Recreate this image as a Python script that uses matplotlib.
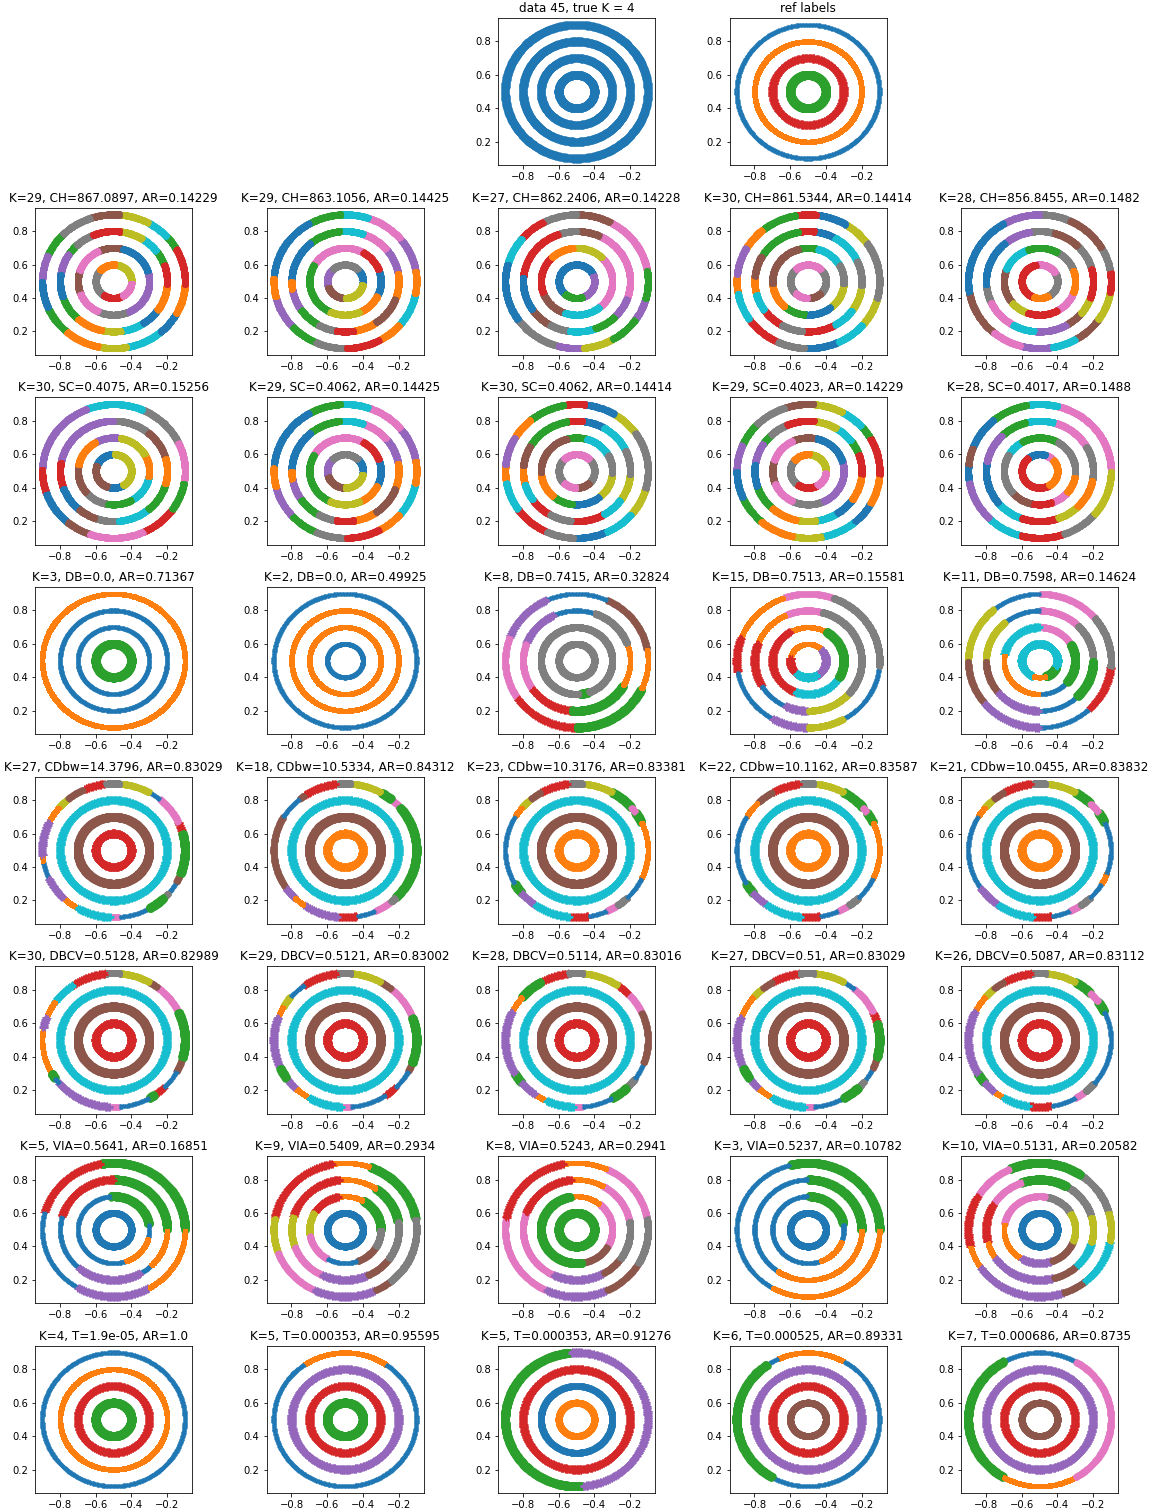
import numpy as np
import matplotlib
matplotlib.use("Agg")
import matplotlib.pyplot as plt

# ---------------- data ----------------
CENTER = (-0.5, 0.5)
RING_RADII = [0.4, 0.3, 0.2, 0.1]          # outer -> inner ring
BAND_OFFSETS = [-0.007, 0.0, 0.007]        # ring band thickness
XLIM = (-0.94, -0.06)
YLIM = (0.06, 0.94)

# colour codes (tab10)
COLORS = {'b': 'tab:blue', 'o': 'tab:orange', 'g': 'tab:green', 'r': 'tab:red',
          'p': 'tab:purple', 'n': 'tab:brown', 'k': 'tab:pink', 'y': 'tab:gray',
          'v': 'tab:olive', 'c': 'tab:cyan'}

# each panel: 4 rings (outer..inner); each ring = list of (start angle in deg, colour[, style])
DATA45 = [[(0, 'b', 'data')], [(0, 'b', 'data')], [(0, 'b', 'data')], [(0, 'b', 'data')]]
REF = [[(0, 'b')], [(0, 'o')], [(0, 'r')], [(0, 'g')]]

CH_1 = [[(29, 'g'), (42, 'c'), (61, 'v'), (85, 'n'), (109, 'y'), (136, 'g'), (157, 'p'), (180, 'b'),
         (204, 'g'), (229, 'o'), (258, 'v'), (281, 'c'), (311, 'b'), (331, 'o'), (357, 'r')],
        [(20, 'g'), (37, 'c'), (58, 'v'), (83, 'r'), (114, 'y'), (134, 'g'), (147, 'p'), (172, 'b'),
         (199, 'g'), (228, 'o'), (258, 'v'), (279, 'c'), (303, 'b'), (325, 'o'), (356, 'r')],
        [(17, 'b'), (76, 'n'), (115, 'k'), (162, 'n'), (202, 'k'), (245, 'y'), (295, 'p')],
        [(85, 'o'), (140, 'y'), (235, 'r'), (300, 'k'), (355, 'v')]]
CH_2 = [[(9, 'p'), (40, 'k'), (71, 'c'), (93, 'g'), (120, 'b'), (177, 'o'), (194, 'p'), (223, 'g'),
         (246, 'y'), (271, 'r'), (299, 'o'), (320, 'c'), (349, 'o')],
        [(10, 'p'), (40, 'k'), (70, 'c'), (95, 'g'), (130, 'b'), (180, 'o'), (190, 'p'), (215, 'g'),
         (240, 'y'), (260, 'r'), (280, 'o'), (305, 'n'), (340, 'o')],
        [(20, 'r'), (60, 'k'), (150, 'g'), (245, 'v'), (295, 'o'), (335, 'b')],
        [(45, 'y'), (135, 'p'), (200, 'n'), (270, 'v'), (350, 'b')]]
CH_3 = [[(10, 'k'), (62, 'n'), (90, 'y'), (118, 'r'), (140, 'c'), (165, 'b'), (215, 'y'), (255, 'p'),
         (275, 'v'), (300, 'g'), (325, 'p'), (345, 'g')],
        [(65, 'n'), (90, 'y'), (110, 'r'), (175, 'b'), (215, 'n'), (240, 'y'), (262, 'c'), (290, 'g'),
         (315, 'p'), (340, 'k')],
        [(45, 'v'), (95, 'o'), (135, 'r'), (200, 'n'), (250, 'c'), (310, 'k')],
        [(20, 'b'), (230, 'g'), (290, 'p')]]
CH_4 = [[(35, 'v'), (58, 'b'), (83, 'r'), (100, 'g'), (130, 'o'), (150, 'p'), (175, 'o'), (190, 'c'),
         (215, 'r'), (245, 'y'), (268, 'b'), (295, 'c'), (320, 'v'), (345, 'y')],
        [(25, 'c'), (60, 'b'), (83, 'r'), (100, 'g'), (150, 'n'), (175, 'o'), (195, 'c'), (215, 'r'),
         (240, 'y'), (265, 'r'), (300, 'c'), (325, 'v'), (355, 'y')],
        [(30, 'c'), (75, 'g'), (105, 'n'), (185, 'o'), (230, 'g'), (265, 'b'), (310, 'v'), (355, 'y')],
        [(45, 'k'), (135, 'y'), (225, 'k'), (270, 'n'), (315, 'y')]]
CH_5 = [[(8, 'y'), (30, 'n'), (65, 'y'), (90, 'p'), (120, 'b'), (190, 'n'), (230, 'k'), (255, 'p'),
         (280, 'c'), (300, 'n'), (325, 'v'), (350, 'r')],
        [(15, 'y'), (45, 'n'), (75, 'y'), (100, 'p'), (130, 'b'), (185, 'y'), (205, 'k'), (240, 'c'),
         (265, 'p'), (300, 'n'), (320, 'v'), (340, 'r')],
        [(20, 'y'), (60, 'g'), (110, 'c'), (160, 'n'), (220, 'v'), (250, 'r'), (300, 'k'), (340, 'o')],
        [(30, 'k'), (100, 'r'), (250, 'o'), (300, 'y')]]

SC_1 = [[(25, 'y'), (66, 'c'), (112, 'p'), (178, 'r'), (200, 'b'), (230, 'n'), (250, 'k'), (295, 'r'),
         (325, 'g'), (350, 'k')],
        [(15, 'n'), (50, 'y'), (90, 'p'), (170, 'r'), (200, 'b'), (230, 'n'), (250, 'y'), (275, 'c'),
         (310, 'g'), (345, 'o')],
        [(30, 'v'), (80, 'p'), (120, 'o'), (170, 'n'), (220, 'y'), (260, 'g'), (300, 'c'), (350, 'o')],
        [(90, 'b'), (160, 'n'), (250, 'b'), (300, 'v')]]
SC_2 = CH_2
SC_3 = CH_4
SC_4 = CH_1
SC_5 = [[(0, 'k'), (75, 'c'), (100, 'g'), (130, 'b'), (160, 'n'), (175, 'b'), (190, 'p'), (225, 'c'),
         (255, 'r'), (290, 'y'), (320, 'v')],
        [(30, 'k'), (75, 'c'), (105, 'g'), (135, 'p'), (170, 'b'), (220, 'c'), (250, 'r'), (290, 'v'),
         (315, 'o'), (350, 'y')],
        [(60, 'g'), (120, 'c'), (150, 'y'), (220, 'n'), (260, 'r'), (290, 'k'), (320, 'o'), (350, 'y')],
        [(40, 'k'), (70, 'b'), (130, 'r'), (300, 'o')]]

DB_1 = [[(0, 'o')], [(0, 'b')], [(0, 'b')], [(0, 'g')]]
DB_2 = [[(0, 'b')], [(0, 'o')], [(0, 'o')], [(0, 'b')]]
DB_3 = [[(10, 'n'), (65, 'b'), (115, 'p'), (160, 'k'), (215, 'r'), (270, 'g'), (335, 'o')],
        [(20, 'y'), (70, 'b'), (115, 'p'), (160, 'k'), (215, 'r'), (265, 'g'), (330, 'o')],
        [(0, 'y'), (275, 'g'), (290, 'y')],
        [(0, 'y')]]
DB_4 = [[(70, 'k'), (110, 'o'), (160, 'r'), (190, 'b'), (240, 'p'), (270, 'v'), (300, 'b'), (355, 'y')],
        [(75, 'k'), (115, 'o'), (160, 'r'), (210, 'b'), (245, 'p'), (270, 'v'), (320, 'y')],
        [(60, 'o'), (120, 'r'), (250, 'c'), (330, 'g')],
        [(40, 'o'), (170, 'r'), (230, 'c'), (300, 'p')]]
DB_5 = [[(40, 'k'), (90, 'b'), (130, 'v'), (180, 'n'), (220, 'p'), (270, 'b'), (315, 'r'), (355, 'y')],
        [(0, 'y'), (45, 'k'), (90, 'b'), (130, 'v'), (180, 'n'), (220, 'p'), (270, 'b'), (315, 'g')],
        [(30, 'k'), (90, 'c'), (170, 'o'), (270, 'b'), (320, 'g')],
        [(0, 'c'), (250, 'o'), (290, 'g'), (340, 'c')]]

CDBW_1 = [[(15, 'r'), (25, 'k'), (50, 'b'), (60, 'v'), (85, 'y'), (97, 'r'), (115, 'n'), (130, 'v'),
           (140, 'o'), (155, 'p'), (185, 'o'), (190, 'b'), (205, 'p'), (225, 'o'), (240, 'c'), (268, 'k'),
           (275, 'b'), (300, 'g'), (315, 'y'), (320, 'b'), (332, 'n'), (340, 'g')],
          [(0, 'c', 'cyan')], [(0, 'n', 'solid')], [(0, 'r', 'plus')]]
CDBW_2 = [[(40, 'k'), (50, 'g'), (60, 'v'), (85, 'y'), (97, 'r'), (125, 'n'), (130, 'b'), (150, 'n'),
           (215, 'p'), (225, 'o'), (235, 'p'), (265, 'r'), (280, 'b'), (295, 'k'), (310, 'y'), (315, 'g')],
          [(0, 'c', 'cyan')], [(0, 'n', 'solid')], [(0, 'o', 'plus')]]
CDBW_3 = [[(25, 'g'), (35, 'k'), (40, 'g'), (60, 'v'), (85, 'y'), (97, 'r'), (120, 'n'), (130, 'v'),
           (140, 'o'), (150, 'b'), (210, 'g'), (220, 'p'), (235, 'c'), (265, 'r'), (280, 'b'), (295, 'k'),
           (305, 'y'), (315, 'b'), (335, 'o')],
          [(0, 'c', 'cyan')], [(0, 'n', 'solid')], [(0, 'o', 'plus')]]
CDBW_4 = [[(25, 'g'), (35, 'k'), (40, 'g'), (60, 'v'), (85, 'y'), (97, 'r'), (120, 'n'), (135, 'o'),
           (150, 'b'), (210, 'g'), (220, 'p'), (235, 'c'), (265, 'r'), (280, 'b'), (295, 'k'), (305, 'y'),
           (315, 'b'), (335, 'o')],
          [(0, 'c', 'cyan')], [(0, 'n', 'solid')], [(0, 'o', 'plus')]]
CDBW_5 = [[(25, 'g'), (35, 'k'), (45, 'g'), (60, 'v'), (85, 'y'), (97, 'r'), (120, 'n'), (130, 'v'),
           (140, 'o'), (150, 'b'), (215, 'p'), (235, 'c'), (265, 'r'), (280, 'b'), (295, 'k'), (305, 'y'),
           (315, 'b'), (330, 'o'), (340, 'b')],
          [(0, 'c', 'cyan')], [(0, 'n', 'solid')], [(0, 'o', 'plus')]]

DBCV_1 = [[(25, 'k'), (52, 'n'), (60, 'v'), (85, 'y'), (97, 'r'), (125, 'c'), (145, 'o'), (160, 'p'),
           (170, 'o'), (210, 'g'), (215, 'b'), (220, 'p'), (268, 'k'), (275, 'b'), (300, 'g'), (305, 'r'),
           (315, 'b'), (332, 'n'), (345, 'g')],
          [(0, 'c', 'cyan')], [(0, 'n', 'solid')], [(0, 'r', 'plus')]]
DBCV_2 = [[(20, 'k'), (50, 'n'), (60, 'v'), (85, 'y'), (97, 'r'), (125, 'b'), (140, 'v'), (150, 'o'),
           (160, 'p'), (205, 'g'), (215, 'p'), (225, 'o'), (240, 'c'), (268, 'k'), (275, 'b'), (305, 'r'),
           (315, 'b'), (332, 'n'), (340, 'g')],
          [(0, 'c', 'cyan')], [(0, 'n', 'solid')], [(0, 'r', 'plus')]]
DBCV_3 = [[(25, 'k'), (45, 'r'), (55, 'v'), (85, 'y'), (97, 'r'), (120, 'g'), (140, 'o'), (155, 'p'),
           (210, 'g'), (220, 'p'), (235, 'o'), (245, 'c'), (268, 'k'), (275, 'b'), (300, 'g'), (315, 'y'),
           (325, 'b'), (340, 'n')],
          [(0, 'c', 'cyan')], [(0, 'n', 'solid')], [(0, 'r', 'plus')]]
DBCV_4 = [[(15, 'r'), (25, 'k'), (50, 'b'), (60, 'v'), (85, 'y'), (97, 'r'), (120, 'n'), (130, 'v'),
           (140, 'o'), (160, 'p'), (205, 'g'), (215, 'p'), (225, 'o'), (240, 'c'), (268, 'k'), (275, 'b'),
           (300, 'g'), (315, 'y'), (322, 'b'), (335, 'n'), (345, 'g')],
          [(0, 'c', 'cyan')], [(0, 'n', 'solid')], [(0, 'r', 'plus')]]
DBCV_5 = [[(25, 'g'), (35, 'k'), (45, 'g'), (60, 'v'), (85, 'y'), (97, 'r'), (120, 'n'), (130, 'v'),
           (140, 'o'), (155, 'p'), (210, 'g'), (220, 'p'), (230, 'o'), (240, 'c'), (262, 'r'), (280, 'b'),
           (300, 'k'), (310, 'y'), (320, 'b')],
          [(0, 'c', 'cyan')], [(0, 'n', 'solid')], [(0, 'r', 'plus')]]

VIA_1 = [[(0, 'g'), (100, 'r'), (165, 'b'), (240, 'p'), (300, 'o')],
         [(0, 'g'), (90, 'r'), (165, 'b'), (230, 'p'), (300, 'b'), (315, 'o')],
         [(10, 'g'), (95, 'b'), (290, 'o'), (345, 'b')],
         [(0, 'b', 'mid')]]
VIA_2 = [[(10, 'g'), (70, 'o'), (100, 'r'), (170, 'v'), (200, 'k'), (245, 'p'), (295, 'n'), (310, 'y')],
         [(10, 'g'), (55, 'o'), (95, 'r'), (165, 'v'), (200, 'k'), (245, 'p'), (295, 'n'), (325, 'y')],
         [(0, 'g'), (60, 'o'), (100, 'r'), (150, 'v'), (190, 'k'), (240, 'b'), (290, 'n'), (330, 'y')],
         [(0, 'b', 'mid')]]
VIA_3 = [[(10, 'k'), (65, 'o'), (100, 'r'), (170, 'k'), (245, 'p'), (295, 'n'), (330, 'y')],
         [(10, 'k'), (60, 'o'), (95, 'r'), (160, 'k'), (245, 'p'), (300, 'n'), (325, 'y')],
         [(0, 'k'), (50, 'o'), (100, 'g'), (280, 'n'), (330, 'k')],
         [(0, 'g')]]
VIA_4 = [[(0, 'g'), (105, 'b'), (240, 'o')],
         [(0, 'g'), (90, 'b'), (235, 'o')],
         [(10, 'g'), (90, 'b'), (290, 'o'), (340, 'b')],
         [(0, 'b', 'mid')]]
VIA_5 = [[(15, 'y'), (55, 'g'), (115, 'k'), (150, 'r'), (195, 'o'), (215, 'p'), (290, 'n'), (310, 'c'),
          (350, 'v')],
         [(15, 'y'), (60, 'g'), (110, 'k'), (150, 'r'), (195, 'o'), (215, 'p'), (285, 'n'), (315, 'c'),
          (345, 'v')],
         [(30, 'y'), (80, 'k'), (170, 'o'), (240, 'p'), (290, 'n'), (340, 'v')],
         [(0, 'b', 'mid')]]

T_1 = [[(0, 'b')], [(0, 'o')], [(0, 'r')], [(0, 'g')]]
T_2 = [[(55, 'o'), (125, 'b')], [(0, 'p')], [(0, 'r')], [(0, 'g')]]
T_3 = [[(95, 'g'), (275, 'p')], [(0, 'r')], [(0, 'b', 'mid')], [(0, 'o', 'mid')]]
T_4 = [[(60, 'o'), (115, 'b'), (125, 'g'), (240, 'b')], [(0, 'p')], [(0, 'r')], [(0, 'n')]]
T_5 = [[(60, 'b'), (120, 'g'), (240, 'o'), (300, 'k')], [(0, 'p')], [(0, 'r')], [(0, 'n')]]

TITLES_TOP = ["data 45, true K = 4", "ref labels"]
TITLES_CH = ["K=29, CH=867.0897, AR=0.14229", "K=29, CH=863.1056, AR=0.14425",
             "K=27, CH=862.2406, AR=0.14228", "K=30, CH=861.5344, AR=0.14414",
             "K=28, CH=856.8455, AR=0.1482"]
TITLES_SC = ["K=30, SC=0.4075, AR=0.15256", "K=29, SC=0.4062, AR=0.14425",
             "K=30, SC=0.4062, AR=0.14414", "K=29, SC=0.4023, AR=0.14229",
             "K=28, SC=0.4017, AR=0.1488"]
TITLES_DB = ["K=3, DB=0.0, AR=0.71367", "K=2, DB=0.0, AR=0.49925", "K=8, DB=0.7415, AR=0.32824",
             "K=15, DB=0.7513, AR=0.15581", "K=11, DB=0.7598, AR=0.14624"]
TITLES_CDBW = ["K=27, CDbw=14.3796, AR=0.83029", "K=18, CDbw=10.5334, AR=0.84312",
               "K=23, CDbw=10.3176, AR=0.83381", "K=22, CDbw=10.1162, AR=0.83587",
               "K=21, CDbw=10.0455, AR=0.83832"]
TITLES_DBCV = ["K=30, DBCV=0.5128, AR=0.82989", "K=29, DBCV=0.5121, AR=0.83002",
               "K=28, DBCV=0.5114, AR=0.83016", "K=27, DBCV=0.51, AR=0.83029",
               "K=26, DBCV=0.5087, AR=0.83112"]
TITLES_VIA = ["K=5, VIA=0.5641, AR=0.16851", "K=9, VIA=0.5409, AR=0.2934", "K=8, VIA=0.5243, AR=0.2941",
              "K=3, VIA=0.5237, AR=0.10782", "K=10, VIA=0.5131, AR=0.20582"]
TITLES_T = ["K=4, T=1.9e-05, AR=1.0", "K=5, T=0.000353, AR=0.95595", "K=5, T=0.000353, AR=0.91276",
            "K=6, T=0.000525, AR=0.89331", "K=7, T=0.000686, AR=0.8735"]

# ---------------- styles ----------------
STYLES = {
    'data':  dict(marker='o', s=34, linewidths=0),
    'thin':  dict(marker='.', s=18, linewidths=0),
    'sq':    dict(marker='s', s=9, linewidths=0),
    'solid': dict(marker='o', s=42, linewidths=0),
    'plus':  dict(marker='+', s=36, linewidths=1.0),
    'mid':   dict(marker='o', s=18, linewidths=0),
    'gray':  dict(marker='o', s=24, linewidths=0),
    'olive': dict(marker='o', s=20, linewidths=0),
    'cyan':  dict(marker='+', s=26, linewidths=1.0),
    'hk':    dict(marker='o', s=22, linewidths=0),
}
DEFAULT_STYLE = {'b': 'thin', 'o': 'sq', 'g': 'solid', 'r': 'plus', 'p': 'plus', 'n': 'mid',
                 'k': 'mid', 'y': 'gray', 'v': 'olive', 'c': 'cyan'}


def draw_panel(ax, rings, title, high_k=False):
    groups = {}
    for r, spec in zip(RING_RADII, rings):
        n = len(spec)
        for i, seg in enumerate(spec):
            a0 = seg[0]
            a1 = spec[i + 1][0] if i + 1 < n else spec[0][0] + 360
            col = seg[1]
            if len(seg) > 2:
                st = seg[2]
            elif high_k:
                st = 'hk'
            else:
                st = DEFAULT_STYLE[col]
            step = 0.6 if r > 0.25 else 0.9
            th = np.deg2rad(np.arange(a0, a1, step))
            for off in BAND_OFFSETS:
                xs = CENTER[0] + (r + off) * np.cos(th)
                ys = CENTER[1] + (r + off) * np.sin(th)
                groups.setdefault((col, st), ([], []))
                groups[(col, st)][0].append(xs)
                groups[(col, st)][1].append(ys)
    for (col, st), (xl, yl) in groups.items():
        ax.scatter(np.concatenate(xl), np.concatenate(yl), c=COLORS[col], **STYLES[st])
    ax.set_xlim(*XLIM)
    ax.set_ylim(*YLIM)
    ax.set_xticks([-0.8, -0.6, -0.4, -0.2])
    ax.set_yticks([0.2, 0.4, 0.6, 0.8])
    ax.set_title(title, fontsize=12)


fig, axes = plt.subplots(8, 5, figsize=(16, 21), dpi=72)
fig.subplots_adjust(left=0.0304, right=0.9705, top=0.9881, bottom=0.0126,
                    wspace=0.4745, hspace=0.289)

for j in (0, 1, 4):
    axes[0, j].axis('off')
draw_panel(axes[0, 2], DATA45, TITLES_TOP[0])
draw_panel(axes[0, 3], REF, TITLES_TOP[1])

rows = [
    ([CH_1, CH_2, CH_3, CH_4, CH_5], TITLES_CH, True),
    ([SC_1, SC_2, SC_3, SC_4, SC_5], TITLES_SC, True),
    ([DB_1, DB_2, DB_3, DB_4, DB_5], TITLES_DB, False),
    ([CDBW_1, CDBW_2, CDBW_3, CDBW_4, CDBW_5], TITLES_CDBW, False),
    ([DBCV_1, DBCV_2, DBCV_3, DBCV_4, DBCV_5], TITLES_DBCV, False),
    ([VIA_1, VIA_2, VIA_3, VIA_4, VIA_5], TITLES_VIA, False),
    ([T_1, T_2, T_3, T_4, T_5], TITLES_T, False),
]
for i, (panels, titles, hk) in enumerate(rows, start=1):
    for j in range(5):
        draw_panel(axes[i, j], panels[j], titles[j], high_k=hk)

fig.savefig("out.png", dpi=72)
